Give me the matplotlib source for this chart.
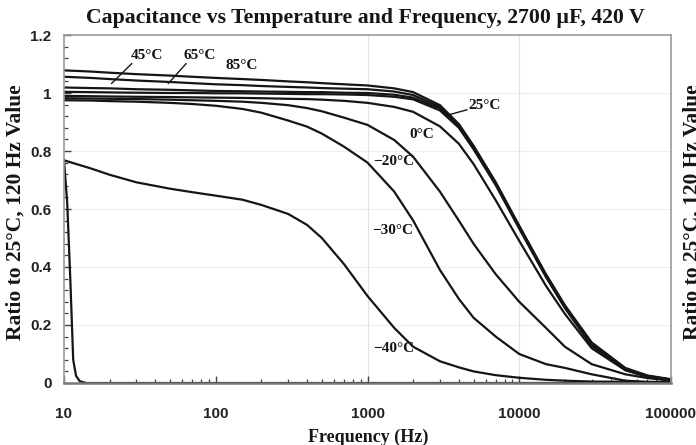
import numpy as np
import matplotlib
matplotlib.use("Agg")
import matplotlib.pyplot as plt
from matplotlib.ticker import FixedLocator, MultipleLocator, LogLocator, NullFormatter

# frequency grid (Hz) shared by the labelled curves
FREQ = [10, 15, 20, 30, 50, 70, 100, 150, 200, 300, 400, 500, 700, 1000, 1500, 2000,
        3000, 4000, 5000, 7000, 10000, 15000, 20000, 30000, 50000, 70000, 100000]

C85 = [1.078, 1.074, 1.070, 1.065, 1.060, 1.056, 1.052, 1.048, 1.045, 1.040, 1.037, 1.034, 1.030, 1.026,
       1.016, 1.003, 0.958, 0.893, 0.818, 0.692, 0.542, 0.375, 0.268, 0.140, 0.052, 0.026, 0.013]
C65 = [1.056, 1.052, 1.048, 1.043, 1.038, 1.034, 1.030, 1.027, 1.024, 1.021, 1.019, 1.017, 1.015, 1.013,
       1.005, 0.993, 0.952, 0.889, 0.815, 0.690, 0.540, 0.372, 0.265, 0.136, 0.049, 0.024, 0.012]
C45 = [1.019, 1.017, 1.016, 1.013, 1.011, 1.009, 1.007, 1.006, 1.005, 1.004, 1.003, 1.003, 1.001, 1.000,
       0.994, 0.984, 0.947, 0.886, 0.812, 0.687, 0.537, 0.370, 0.262, 0.132, 0.047, 0.023, 0.011]
C25 = [1.004, 1.003, 1.002, 1.001, 1.000, 1.000, 0.999, 0.999, 0.998, 0.997, 0.996, 0.996, 0.995, 0.993,
       0.987, 0.978, 0.940, 0.880, 0.806, 0.682, 0.532, 0.365, 0.258, 0.128, 0.045, 0.022, 0.011]
C0 = [0.990, 0.989, 0.988, 0.987, 0.986, 0.985, 0.984, 0.983, 0.982, 0.980, 0.979, 0.977, 0.973, 0.966,
      0.952, 0.935, 0.885, 0.825, 0.755, 0.630, 0.490, 0.335, 0.238, 0.120, 0.044, 0.021, 0.010]
CM20 = [0.982, 0.981, 0.980, 0.979, 0.977, 0.975, 0.973, 0.970, 0.966, 0.958, 0.948, 0.937, 0.915, 0.890,
        0.838, 0.780, 0.660, 0.560, 0.480, 0.375, 0.280, 0.190, 0.125, 0.065, 0.030, 0.017, 0.008]
CM30 = [0.975, 0.974, 0.972, 0.970, 0.966, 0.962, 0.956, 0.945, 0.932, 0.905, 0.884, 0.860, 0.815, 0.760,
        0.660, 0.560, 0.390, 0.290, 0.225, 0.160, 0.100, 0.065, 0.052, 0.030, 0.008, 0.004, 0.003]
CM40 = [0.768, 0.740, 0.718, 0.692, 0.670, 0.658, 0.646, 0.632, 0.614, 0.583, 0.545, 0.500, 0.410, 0.300,
        0.190, 0.125, 0.075, 0.054, 0.040, 0.027, 0.018, 0.011, 0.008, 0.005, 0.004, 0.003, 0.003]

# unlabelled curve that collapses right at the start
FREQ_LOW = [10, 10.5, 11, 11.5, 12, 12.7, 14, 100000]
C_LOW = [0.77, 0.62, 0.36, 0.08, 0.025, 0.006, 0.0, 0.0]

CURVES = [C85, C65, C45, C25, C0, CM20, CM30, CM40]

# curve labels: (text, freq, ratio)
LABELS = [("45°C", 35, 1.131), ("65°C", 78, 1.131), ("85°C", 149, 1.094),
          ("25°C", 5940, 0.956), ("0°C", 2270, 0.857), ("−20°C", 1496, 0.764),
          ("−30°C", 1462, 0.525), ("−40°C", 1496, 0.12)]
# leader lines: (f0, v0, f1, v1)
LEADERS = [(27.9, 1.101, 20.6, 1.033), (63.7, 1.101, 48.7, 1.033), (4510, 0.942, 3400, 0.924)]

XTICKS = [10, 100, 1000, 10000, 100000]
XTICKLABELS = ["10", "100", "1000", "10000", "100000"]
YTICKS = [0, 0.2, 0.4, 0.6, 0.8, 1.0, 1.2]
YTICKLABELS = ["0", "0.2", "0.4", "0.6", "0.8", "1", "1.2"]
VGRID = [1000, 10000]

SERIF = "Liberation Serif"
SANS = "Liberation Sans"
INK = "#151515"

fig = plt.figure(figsize=(6.96, 4.45), dpi=100)
ax = fig.add_axes([64 / 696, 1 - 383 / 445, (671 - 64) / 696, (383 - 35) / 445])

for y in YTICKS[1:-1]:
    ax.axhline(y, color="#eeeeee", lw=0.8, zorder=0)
for x in VGRID:
    ax.axvline(x, color="#e2e2e2", lw=0.9, zorder=0)

for c in CURVES:
    ax.plot(FREQ, c, color=INK, lw=1.6, solid_joinstyle="round")
ax.plot(FREQ_LOW, C_LOW, color=INK, lw=1.6)

for txt, f, v in LABELS:
    ax.text(f, v, txt, ha="center", va="center", fontsize=11, fontweight="bold",
            family=SERIF, color=INK)
for f0, v0, f1, v1 in LEADERS:
    ax.plot([f0, f1], [v0, v1], color=INK, lw=1.0)

ax.set_xscale("log")
ax.set_xlim(10, 100000)
ax.set_ylim(0, 1.2)
ax.xaxis.set_major_locator(FixedLocator(XTICKS))
ax.set_xticklabels(XTICKLABELS)
ax.xaxis.set_minor_locator(LogLocator(base=10, subs=np.arange(2, 10)))
ax.xaxis.set_minor_formatter(NullFormatter())
ax.yaxis.set_major_locator(FixedLocator(YTICKS))
ax.set_yticklabels(YTICKLABELS)
ax.yaxis.set_minor_locator(MultipleLocator(0.04))

ax.tick_params(which="both", direction="in", color="#444444", top=False, right=False)
ax.tick_params(which="major", length=5, width=1.0)
ax.tick_params(which="minor", length=3, width=0.9)
ax.tick_params(axis="x", pad=17)
ax.tick_params(axis="y", pad=9)
for lab in ax.get_xticklabels() + ax.get_yticklabels():
    lab.set_family(SANS)
    lab.set_fontweight("bold")
    lab.set_fontsize(11)
    lab.set_color("#222222")

for s in ["top", "right", "left"]:
    ax.spines[s].set_color("#9a9a9a")
    ax.spines[s].set_linewidth(1.2)
ax.spines["bottom"].set_color("#777777")
ax.spines["bottom"].set_linewidth(1.8)

fig.text(365 / 696, 1 - 18 / 445, "Capacitance vs Temperature and Frequency, 2700 µF, 420 V",
         ha="center", va="center", family=SERIF, fontweight="bold", fontsize=15.7, color=INK)
fig.text(368 / 696, 1 - 437 / 445, "Frequency (Hz)", ha="center", va="center",
         family=SERIF, fontweight="bold", fontsize=13, color=INK)
ylab = "Ratio to 25°C, 120 Hz Value"
fig.text(16 / 696, 1 - 212 / 445, ylab, rotation=90, ha="center", va="center",
         family=SERIF, fontweight="bold", fontsize=15.5, color=INK)
fig.text(693 / 696, 1 - 212 / 445, ylab, rotation=90, ha="center", va="center",
         family=SERIF, fontweight="bold", fontsize=15.5, color=INK)

fig.savefig("out.png", dpi=100)
